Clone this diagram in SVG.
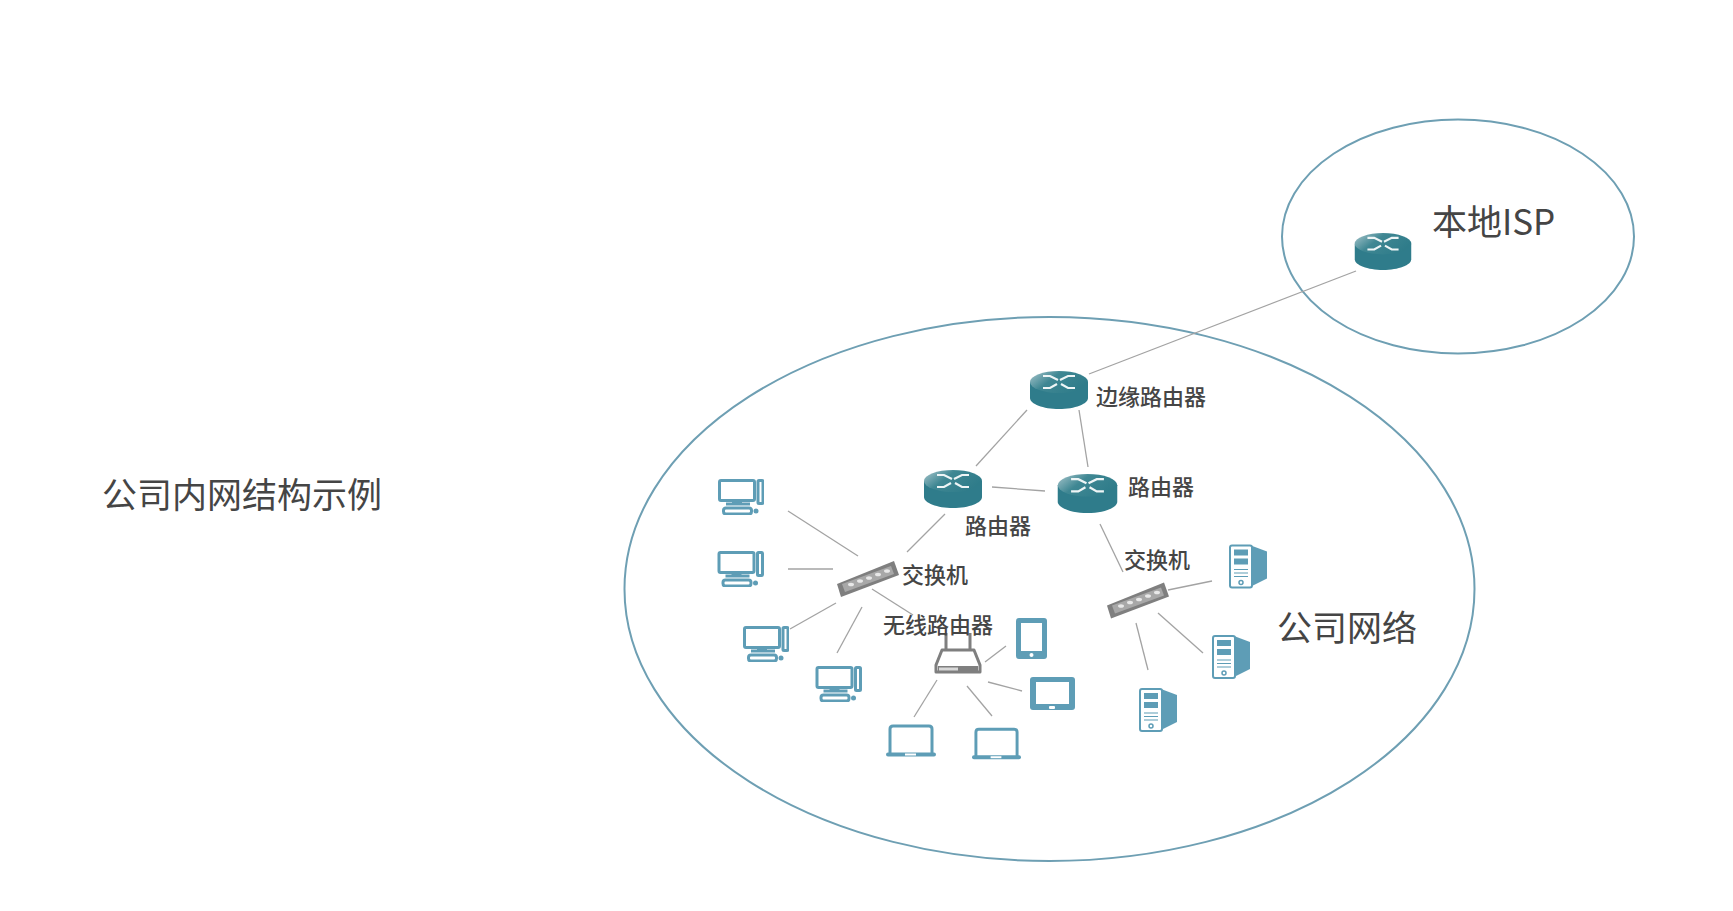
<svg xmlns="http://www.w3.org/2000/svg" xmlns:xlink="http://www.w3.org/1999/xlink" width="1733" height="911" viewBox="0 0 1733 911">
<style>
text{font-family:"Noto Sans CJK SC","Noto Sans",sans-serif;fill:#454545;dominant-baseline:central}
.s{font-size:22px;font-weight:500}
.l{font-size:35px;font-weight:400}
.c line{stroke:#a3a3a3;stroke-width:1.3}
.area{fill:none;stroke:#6e9fb3;stroke-width:2}
.ol{fill:none;stroke:#5e9db6;stroke-width:3}
.fi{fill:#5e9db6}
.gr{fill:none;stroke:#7f7f7f;stroke-width:3}
</style>
<defs>
<linearGradient id="top" x1="0" y1="0" x2="1" y2="0.5">
<stop offset="0" stop-color="#a9c6cc"/><stop offset="0.45" stop-color="#3f8793"/><stop offset="1" stop-color="#2f7c8a"/>
</linearGradient>
<symbol id="router" viewBox="0 0 58 38">
<path d="M0 11V27C0 33 13 38 29 38S58 33 58 27V11Z" fill="#2f7c8b"/>
<ellipse cx="29" cy="11" rx="29" ry="11" fill="url(#top)"/>
<g fill="none" stroke="#eef5f6" stroke-width="2.2">
<path d="M13 5H20L28 9"/><path d="M45 5H38L30 9"/><path d="M13 17H20L27 13"/><path d="M45 17H38L31 13"/>
</g>
</symbol>
<symbol id="pc" viewBox="0 0 46 36">
<rect x="1.5" y="1.5" width="35" height="20" rx="1.5" class="ol"/>
<rect x="40" y="1.5" width="5" height="23" rx="1" class="ol"/>
<path d="M14 22H24V26H14Z" class="fi"/>
<path d="M8 25H32" class="ol"/>
<rect x="5.5" y="29" width="28" height="6" rx="2.5" class="ol"/>
<circle cx="38" cy="32" r="2.5" class="fi"/>
</symbol>
<symbol id="server" viewBox="0 0 38 44">
<path d="M22 1L38 7V34L22 42Z" class="fi"/>
<rect x="1" y="1" width="22" height="42" rx="2" fill="#fff" stroke="#5e9db6" stroke-width="2"/>
<rect x="5" y="5" width="14" height="6" class="fi"/>
<rect x="5" y="14" width="14" height="6" class="fi"/>
<path d="M5 25H19M5 28.500H19M5 32H19" stroke="#5e9db6" stroke-width="1.200"/>
<circle cx="12" cy="38" r="2" fill="#fff" stroke="#5e9db6" stroke-width="1.500"/>
</symbol>
<symbol id="laptop" viewBox="0 0 50 33">
<path d="M4 30V5Q4 2 7 2H43Q46 2 46 5V30" class="ol" stroke-width="2.500"/>
<rect x="0" y="28.500" width="50" height="4" rx="2" class="fi"/>
<rect x="19" y="29.500" width="11" height="2" fill="#fff"/>
</symbol>
<symbol id="switch" viewBox="0 0 62 36">
<path d="M0 23L57 0L62 14L4 36Z" fill="#7f7f7f"/>
<path d="M5 23L54 5L57 13L8 31Z" fill="#a8a8a8"/>
<g fill="#e8e8e8"><ellipse cx="14" cy="23.500" rx="3" ry="1.800"/><ellipse cx="23" cy="20" rx="3" ry="1.800"/><ellipse cx="32" cy="17" rx="3" ry="1.800"/><ellipse cx="41" cy="13.500" rx="3" ry="1.800"/><ellipse cx="50" cy="10" rx="3" ry="1.800"/></g>
</symbol>
</defs>
<rect width="1733" height="911" fill="#fff"/>
<g id="areas">
<ellipse class="area" cx="1049.500" cy="589" rx="425" ry="272"/>
<ellipse class="area" cx="1458" cy="236.500" rx="176" ry="117"/>
</g>
<g id="connectors" class="c">
<line x1="1356" y1="271" x2="1089" y2="374"/>
<line x1="1027" y1="410" x2="976" y2="466"/>
<line x1="1079" y1="410" x2="1088" y2="467"/>
<line x1="992" y1="487" x2="1045" y2="491"/>
<line x1="945" y1="514" x2="907" y2="552"/>
<line x1="1100" y1="524" x2="1123" y2="572"/>
<line x1="788" y1="511" x2="858" y2="556"/>
<line x1="788" y1="569" x2="833" y2="569"/>
<line x1="836" y1="603" x2="790" y2="629"/>
<line x1="862" y1="607" x2="837" y2="653"/>
<line x1="872" y1="589" x2="913" y2="615"/>
<line x1="1006" y1="646" x2="985" y2="662"/>
<line x1="988" y1="682" x2="1022" y2="691"/>
<line x1="967" y1="686" x2="992" y2="716"/>
<line x1="937" y1="680" x2="914" y2="717"/>
<line x1="1168" y1="590" x2="1212" y2="581"/>
<line x1="1158" y1="613" x2="1203" y2="653"/>
<line x1="1136" y1="623" x2="1148" y2="670"/>
</g>
<g id="isp-router"><use href="#router" x="1354" y="233" width="58" height="37"/></g>
<g id="edge-router"><use href="#router" x="1030" y="371" width="58" height="38"/></g>
<g id="router-right"><use href="#router" x="1057" y="474" width="61" height="39"/></g>
<g id="router-left"><use href="#router" x="924" y="470" width="58" height="38"/></g>
<g id="switch-left"><use href="#switch" x="837" y="561" width="62" height="36"/></g>
<g id="switch-right"><use href="#switch" x="1107" y="582" width="62" height="37"/></g>
<g id="pc1"><use href="#pc" x="718" y="479" width="46" height="36"/></g>
<g id="pc2"><use href="#pc" x="717" y="551" width="47" height="36"/></g>
<g id="pc3"><use href="#pc" x="743" y="626" width="46" height="36"/></g>
<g id="pc4"><use href="#pc" x="815" y="666" width="47" height="36"/></g>
<g id="server1"><use href="#server" x="1229" y="544" width="38" height="45"/></g>
<g id="server2"><use href="#server" x="1212" y="635" width="38" height="44"/></g>
<g id="server3"><use href="#server" x="1139" y="688" width="38" height="44"/></g>
<g id="wireless-router">
<path class="gr" d="M946 651V633M970 651V633"/>
<path d="M942 650H974L980 665V672H936V665Z" fill="#fff" stroke="#7f7f7f" stroke-width="3" stroke-linejoin="round"/>
<rect x="938" y="666" width="40" height="7" fill="#7f7f7f"/>
<rect x="939" y="667.500" width="19" height="3" fill="#d8d8d8"/>
</g>
<g id="tablet-portrait">
<rect x="1016" y="618" width="31" height="41" rx="3" class="fi"/>
<rect x="1021" y="623" width="21" height="28" fill="#fff"/>
<circle cx="1031.500" cy="655" r="2" fill="#fff"/>
</g>
<g id="tablet-landscape">
<rect x="1030" y="677" width="45" height="33" rx="3" class="fi"/>
<rect x="1036" y="682" width="33" height="22" fill="#fff"/>
<rect x="1049" y="706" width="6" height="3" rx="1" fill="#fff"/>
</g>
<g id="laptop1"><use href="#laptop" x="886" y="724" width="50" height="33"/></g>
<g id="laptop2"><use href="#laptop" x="972" y="727" width="49" height="33"/></g>
<g id="labels">
<text class="s" x="1096" y="395">边缘路由器</text>
<text class="s" x="1128" y="485">路由器</text>
<text class="s" x="965" y="524">路由器</text>
<text class="s" x="902" y="573">交换机</text>
<text class="s" x="883" y="623">无线路由器</text>
<text class="s" x="1124" y="558">交换机</text>
<text class="l" x="1277" y="625">公司网络</text>
<text class="l" x="1432" y="219">本地ISP</text>
<text class="l" x="102" y="492">公司内网结构示例</text>
</g>
</svg>
